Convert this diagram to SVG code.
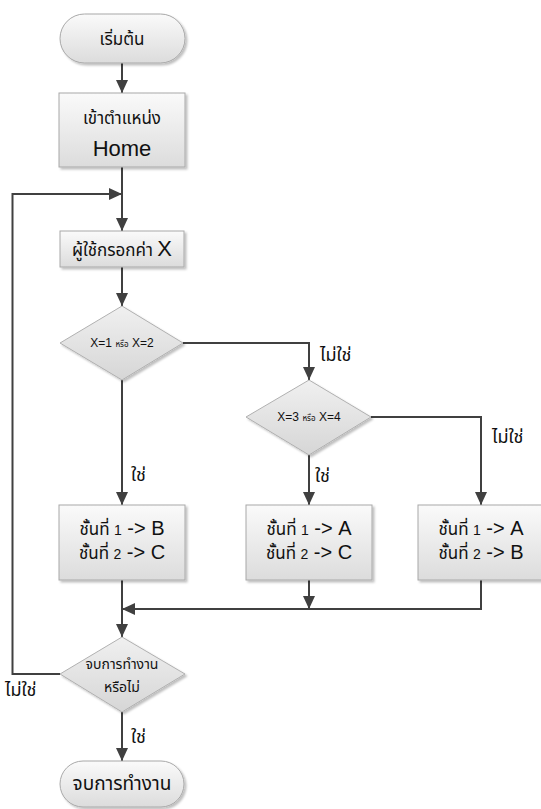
<svg xmlns="http://www.w3.org/2000/svg" width="541" height="809" viewBox="0 0 541 809">
<defs>
<linearGradient id="gBox" x1="0" y1="0" x2="0" y2="1">
<stop offset="0" stop-color="#fafafa"/>
<stop offset="1" stop-color="#dcdcdc"/>
</linearGradient>
<linearGradient id="gDia" x1="0" y1="0" x2="0" y2="1">
<stop offset="0" stop-color="#f0f0f0"/>
<stop offset="1" stop-color="#d6d6d6"/>
</linearGradient>
<filter id="sh" x="-10%" y="-10%" width="130%" height="130%">
<feDropShadow dx="2" dy="2" stdDeviation="1.2" flood-color="#000" flood-opacity="0.25"/>
</filter>
<marker id="ah" markerUnits="userSpaceOnUse" markerWidth="14" markerHeight="14" refX="13" refY="6" orient="auto">
<path d="M0,0 L13,6 L0,12 Z" fill="#404040"/>
</marker>
</defs>
<style>
.box{fill:url(#gBox);stroke:#a8a8a8;stroke-width:1;filter:url(#sh)}
.dia{fill:url(#gDia);stroke:#b0b0b0;stroke-width:1;filter:url(#sh)}
.ln{fill:none;stroke:#404040;stroke-width:2}
.arr{marker-end:url(#ah)}
text{font-family:"Noto Sans Thai","Tahoma","Liberation Sans","DejaVu Sans",sans-serif;fill:#111;text-anchor:middle}
.th{font-size:17px}
.big{font-size:22px;font-family:"Liberation Sans","DejaVu Sans",sans-serif}
.lbl{font-size:18px;text-anchor:start}
.en{font-family:"Liberation Sans","DejaVu Sans",sans-serif}
</style>
<rect width="541" height="809" fill="#fff"/>

<g id="connectors">
<path class="ln arr" d="M122,63 V93"/>
<path class="ln arr" d="M122,167 V231"/>
<path class="ln arr" d="M60,674 H12.5 V194 H122"/>
<path class="ln arr" d="M122,267 V306"/>
<path class="ln arr" d="M122,380 V505"/>
<path class="ln arr" d="M183,343 H309 V380"/>
<path class="ln arr" d="M309,455 V505"/>
<path class="ln arr" d="M371,417 H481 V505"/>
<path class="ln arr" d="M122,580 V637"/>
<path class="ln arr" d="M309,580 V609"/>
<path class="ln arr" d="M481,580 V609 H122"/>
<path class="ln arr" d="M122,712 V761"/>
<text class="lbl" x="320" y="361">ไม่ใช่</text>
<text class="lbl" x="492" y="443">ไม่ใช่</text>
<text class="lbl" x="131" y="481">ใช่</text>
<text class="lbl" x="315" y="482">ใช่</text>
<text class="lbl" x="5" y="696">ไม่ใช่</text>
<text class="lbl" x="131" y="743">ใช่</text>
</g>

<g id="start">
<rect class="box" x="60" y="14" width="125" height="49" rx="24.5"/>
<text x="122" y="45" font-size="17">เริ่มต้น</text>
</g>

<g id="home">
<rect class="box" x="59" y="93" width="126" height="74"/>
<text class="th" x="122" y="124">เข้าตำแหน่ง</text>
<text class="big" x="122" y="156">Home</text>
</g>

<g id="input">
<rect class="box" x="60" y="231" width="124" height="36"/>
<text x="122" y="256"><tspan class="th">ผู้ใช้กรอกค่า </tspan><tspan class="big">X</tspan></text>
</g>

<g id="d1">
<polygon class="dia" points="122,306 183,343 122,380 60,343"/>
<text x="122" y="347" font-size="12" class="en">X=1 <tspan font-size="8" font-family="Noto Sans Thai, sans-serif">หรือ</tspan> X=2</text>
</g>

<g id="d2">
<polygon class="dia" points="309,380 371,417 309,455 246,417"/>
<text x="309" y="421" font-size="12" class="en">X=3 <tspan font-size="8" font-family="Noto Sans Thai, sans-serif">หรือ</tspan> X=4</text>
</g>

<g id="box1">
<rect class="box" x="59" y="505" width="126" height="75"/>
<text x="122" y="535"><tspan class="th">ชั้นที่ </tspan><tspan font-size="14" class="en">1</tspan><tspan font-size="20" class="en"> -&gt; B</tspan></text>
<text x="122" y="559"><tspan class="th">ชั้นที่ </tspan><tspan font-size="14" class="en">2</tspan><tspan font-size="20" class="en"> -&gt; C</tspan></text>
</g>

<g id="box2">
<rect class="box" x="246" y="505" width="126" height="75"/>
<text x="309" y="535"><tspan class="th">ชั้นที่ </tspan><tspan font-size="14" class="en">1</tspan><tspan font-size="20" class="en"> -&gt; A</tspan></text>
<text x="309" y="559"><tspan class="th">ชั้นที่ </tspan><tspan font-size="14" class="en">2</tspan><tspan font-size="20" class="en"> -&gt; C</tspan></text>
</g>

<g id="box3">
<rect class="box" x="418" y="505" width="126" height="75"/>
<text x="481" y="535"><tspan class="th">ชั้นที่ </tspan><tspan font-size="14" class="en">1</tspan><tspan font-size="20" class="en"> -&gt; A</tspan></text>
<text x="481" y="559"><tspan class="th">ชั้นที่ </tspan><tspan font-size="14" class="en">2</tspan><tspan font-size="20" class="en"> -&gt; B</tspan></text>
</g>

<g id="d3">
<polygon class="dia" points="122,637 185,674 122,712 60,674"/>
<text x="122" y="669" font-size="14">จบการทำงาน</text>
<text x="122" y="692" font-size="14">หรือไม่</text>
</g>

<g id="end">
<rect class="box" x="60" y="761" width="124" height="46" rx="23"/>
<text x="122" y="790" font-size="19">จบการทำงาน</text>
</g>
</svg>
